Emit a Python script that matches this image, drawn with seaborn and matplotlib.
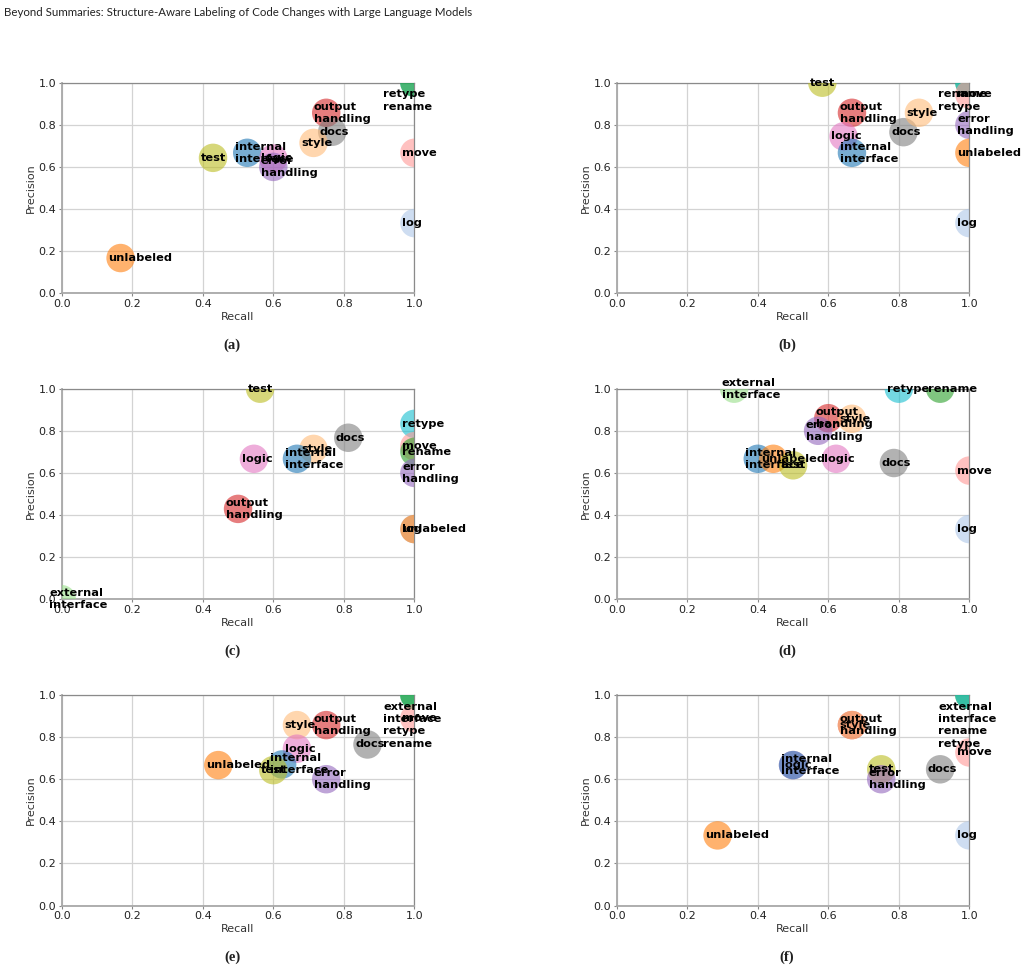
import matplotlib
matplotlib.use("Agg")
import matplotlib.pyplot as plt
import seaborn as sns
import pandas as pd

# Per-category colours (shared by all six panels)
palette = {
    'internal\ninterface': '#1f77b4', 'log': '#aec7e8', 'unlabeled': '#ff7f0e',
    'style': '#ffbb78', 'rename': '#2ca02c', 'external\ninterface': '#98df8a',
    'output\nhandling': '#d62728', 'move': '#ff9896', 'error\nhandling': '#9467bd',
    'logic': '#e377c2', 'docs': '#7f7f7f', 'test': '#bcbd22', 'retype': '#17becf',
}

# (a)
labels_a = ['internal\ninterface', 'logic', 'error\nhandling', 'test', 'unlabeled',
            'output\nhandling', 'docs', 'style', 'move', 'log', 'retype', 'rename']
recall_a = [0.526, 0.6, 0.6, 0.429, 0.167, 0.75, 0.767, 0.714, 1.0, 1.0, 1.0, 1.0]
precision_a = [0.667, 0.64, 0.6, 0.643, 0.167, 0.857, 0.767, 0.714, 0.667, 0.333, 1.0, 1.0]

# (b)
labels_b = ['test', 'output\nhandling', 'logic', 'internal\ninterface', 'docs', 'style',
            'rename', 'retype', 'move', 'error\nhandling', 'unlabeled', 'log']
recall_b = [0.583, 0.667, 0.643, 0.667, 0.813, 0.857, 1.0, 1.0, 1.0, 1.0, 1.0, 1.0]
precision_b = [1.0, 0.857, 0.745, 0.667, 0.765, 0.857, 1.0, 1.0, 0.944, 0.8, 0.667, 0.333]

# (c)
labels_c = ['test', 'retype', 'docs', 'style', 'internal\ninterface', 'logic', 'move',
            'rename', 'error\nhandling', 'output\nhandling', 'log', 'unlabeled',
            'external\ninterface']
recall_c = [0.5625, 1.0, 0.8125, 0.714, 0.667, 0.545, 1.0, 1.0, 1.0, 0.5, 1.0, 1.0, 0.0]
precision_c = [1.0, 0.833, 0.767, 0.714, 0.667, 0.667, 0.727, 0.7, 0.6, 0.429, 0.333, 0.333, 0.0]

# (d)
labels_d = ['external\ninterface', 'retype', 'rename', 'output\nhandling', 'style',
            'error\nhandling', 'internal\ninterface', 'unlabeled', 'test', 'logic',
            'docs', 'move', 'log']
recall_d = [0.333, 0.8, 0.917, 0.6, 0.667, 0.571, 0.4, 0.444, 0.5, 0.622, 0.786, 1.0, 1.0]
precision_d = [1.0, 1.0, 1.0, 0.86, 0.857, 0.8, 0.667, 0.667, 0.636, 0.667, 0.647, 0.611, 0.333]

# (e)
labels_e = ['external\ninterface', 'retype', 'rename', 'move', 'style', 'output\nhandling',
            'docs', 'logic', 'internal\ninterface', 'test', 'unlabeled', 'error\nhandling']
recall_e = [1.0, 1.0, 1.0, 1.0, 0.667, 0.75, 0.867, 0.667, 0.625, 0.6, 0.444, 0.75]
precision_e = [1.0, 1.0, 1.0, 0.889, 0.857, 0.857, 0.765, 0.745, 0.67, 0.643, 0.667, 0.6]

# (f)
labels_f = ['external\ninterface', 'rename', 'retype', 'move', 'output\nhandling', 'style',
            'logic', 'internal\ninterface', 'test', 'error\nhandling', 'docs', 'unlabeled', 'log']
recall_f = [1.0, 1.0, 1.0, 1.0, 0.667, 0.667, 0.5, 0.5, 0.75, 0.75, 0.917, 0.286, 1.0]
precision_f = [1.0, 1.0, 1.0, 0.727, 0.857, 0.857, 0.667, 0.667, 0.647, 0.6, 0.647, 0.333, 0.333]

panels = [
    ('(a)', labels_a, recall_a, precision_a),
    ('(b)', labels_b, recall_b, precision_b),
    ('(c)', labels_c, recall_c, precision_c),
    ('(d)', labels_d, recall_d, precision_d),
    ('(e)', labels_e, recall_e, precision_e),
    ('(f)', labels_f, recall_f, precision_f),
]

plt.rcParams.update({'font.family': 'DejaVu Sans', 'font.size': 8})

W, H = 1021, 971
fig = plt.figure(figsize=(W / 100, H / 100), dpi=100)

col_x = [61.7, 616.7]
row_top = [82.7, 388.7, 695.0]
ax_w, ax_h = 352.7, 210.5

fig.text(4 / W, 1 - 12.5 / H,
         'Beyond Summaries: Structure-Aware Labeling of Code Changes with Large Language Models',
         fontsize=8.25, family='Lato', ha='left', va='center', color='#222222')

line_step = 0.059
for i, (tag, labels, rec, prec) in enumerate(panels):
    r, c = divmod(i, 2)
    left = col_x[c]
    top = row_top[r]
    ax = fig.add_axes([left / W, 1 - (top + ax_h) / H, ax_w / W, ax_h / H])
    df = pd.DataFrame({'label': labels, 'Recall': rec, 'Precision': prec})
    sns.scatterplot(data=df, x='Recall', y='Precision', hue='label', palette=palette,
                    s=420, alpha=0.6, linewidth=0, legend=False, ax=ax, zorder=3)
    ax.set_xlim(0, 1)
    ax.set_ylim(0, 1)
    ax.set_xticks([0, 0.2, 0.4, 0.6, 0.8, 1.0])
    ax.set_yticks([0, 0.2, 0.4, 0.6, 0.8, 1.0])
    ax.grid(True, color='#d3d3d3', linewidth=0.9, zorder=0)
    ax.set_axisbelow(True)
    for side in ['top', 'right']:
        ax.spines[side].set_color('#8a8a8a')
        ax.spines[side].set_linewidth(0.9)
    for side in ['left', 'bottom']:
        ax.spines[side].set_color('#a8a8a8')
        ax.spines[side].set_linewidth(1.3)
    ax.tick_params(length=2.5, width=0.8, color='#888888', pad=1.5, labelsize=8,
                   labelcolor='#222222')
    ax.set_xlabel('Recall', fontsize=8, labelpad=2, color='#333333')
    ax.set_ylabel('Precision', fontsize=8, labelpad=2, color='#333333')

    # labels: points in the top-right corner get stacked below it
    cursor = 0.945
    for lab, x, y in zip(labels, rec, prec):
        if x >= 1.0 and y >= 1.0:
            n = lab.count('\n') + 1
            ty = cursor - (n - 1) * line_step / 2
            cursor -= n * line_step
            ax.text(0.912, ty, lab, fontsize=8.2, fontweight='bold', ha='left',
                    va='center', zorder=5, linespacing=1.25)
        else:
            ax.text(x - 0.035, y, lab, fontsize=8.2, fontweight='bold', ha='left',
                    va='center', zorder=5, linespacing=1.25)

    cap_y = [345, 651, 957][r]
    cap_x = left + ax_w / 2 - 6
    fig.text(cap_x / W, 1 - cap_y / H, tag, fontsize=10.5, family='Liberation Serif',
             fontweight='bold', ha='center', va='center', color='#222222')

fig.savefig('out.png', dpi=100)
